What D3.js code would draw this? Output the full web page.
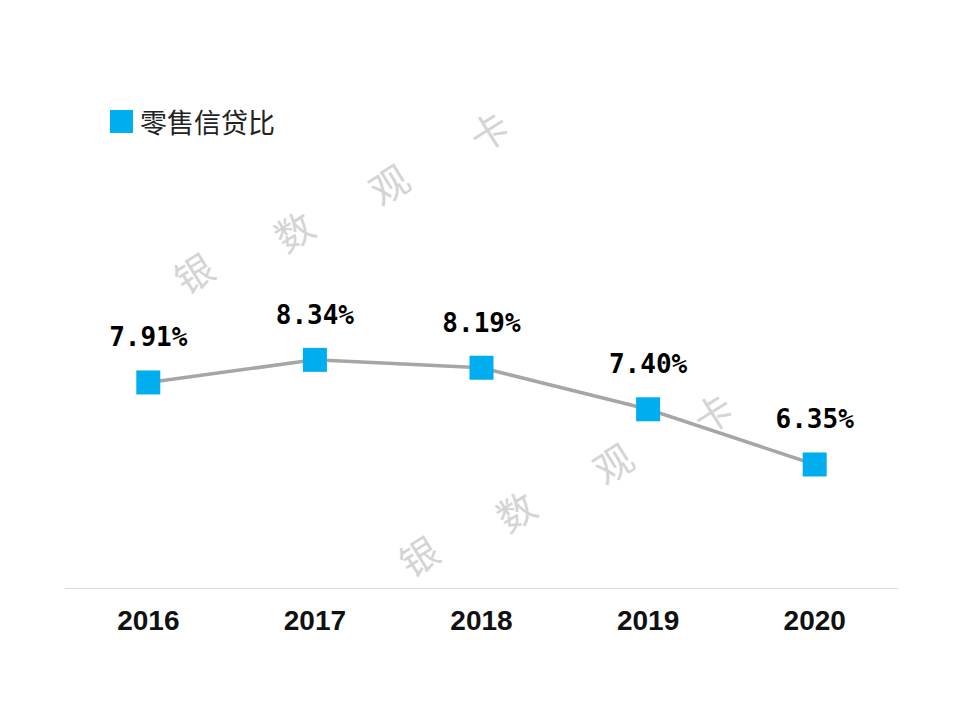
<!DOCTYPE html>
<html><head><meta charset="utf-8">
<script src="https://cdn.jsdelivr.net/npm/d3@7"></script>
<style>body{margin:0;background:#fff}</style>
</head><body>
<svg id="c" width="960" height="720"></svg>
<script>
const years = ["2016","2017","2018","2019","2020"];
const values = [7.91, 8.34, 8.19, 7.40, 6.35];
const labels = ["7.91%","8.34%","8.19%","7.40%","6.35%"];
const seriesName = "零售信贷比";
const watermark = ["银","数","观","卡"];

const svg = d3.select("#c");
const x = d3.scaleBand().domain(years).range([65, 898]);
const y = d3.scaleLinear().domain([4, 10]).range([588, 272.6]);
const cx = d => x(d) + x.bandwidth()/2;

// watermark
const wm = svg.append("g").attr("fill","#d4d4d4").attr("font-family","Noto Sans CJK SC").attr("font-size",38);
[[ [193,272],[293,230],[388,183],[488,130] ], [ [418,555],[515,510],[612,462],[712,412] ]].forEach(row=>{
  row.forEach((p,i)=>{
    wm.append("text").attr("transform",`translate(${p[0]},${p[1]}) rotate(-32)`)
      .attr("text-anchor","middle").attr("dominant-baseline","central").text(watermark[i]);
  });
});

// axis baseline
svg.append("line").attr("x1",65).attr("x2",898).attr("y1",588.5).attr("y2",588.5)
  .attr("stroke","#d9d9d9").attr("stroke-width",1);

// x labels
const xa = svg.append("g").attr("transform","translate(0,630)")
  .call(d3.axisBottom(x).tickSize(0).tickPadding(0));
xa.select(".domain").remove();
xa.selectAll("text").attr("dy",0).attr("font-family","Liberation Sans, Arial, sans-serif")
  .attr("font-weight","bold").attr("font-size",28).attr("fill","#111");

// line
const data = years.map((d,i)=>({year:d, v:values[i], label:labels[i]}));
svg.append("path").datum(data)
  .attr("d", d3.line().x(d=>cx(d.year)).y(d=>y(d.v)))
  .attr("fill","none").attr("stroke","#a6a6a6").attr("stroke-width",3.5);

// markers
svg.selectAll("rect.m").data(data).enter().append("rect").attr("class","m")
  .attr("x",d=>cx(d.year)-12).attr("y",d=>y(d.v)-12).attr("width",24).attr("height",24)
  .attr("fill","#00aeef");

// value labels
svg.selectAll("text.v").data(data).enter().append("text").attr("class","v")
  .attr("x",d=>cx(d.year)).attr("y",d=>y(d.v)-36).attr("text-anchor","middle")
  .attr("font-family","DejaVu Sans Mono, monospace").attr("font-weight","bold")
  .attr("font-size",26).attr("fill","#000").text(d=>d.label);

// legend
svg.append("rect").attr("x",110).attr("y",110).attr("width",23).attr("height",23).attr("fill","#00aeef");
svg.append("text").attr("x",140).attr("y",133).attr("font-family","Noto Sans CJK SC")
  .attr("font-size",27).attr("fill","#222").text(seriesName);
</script>
</body></html>
